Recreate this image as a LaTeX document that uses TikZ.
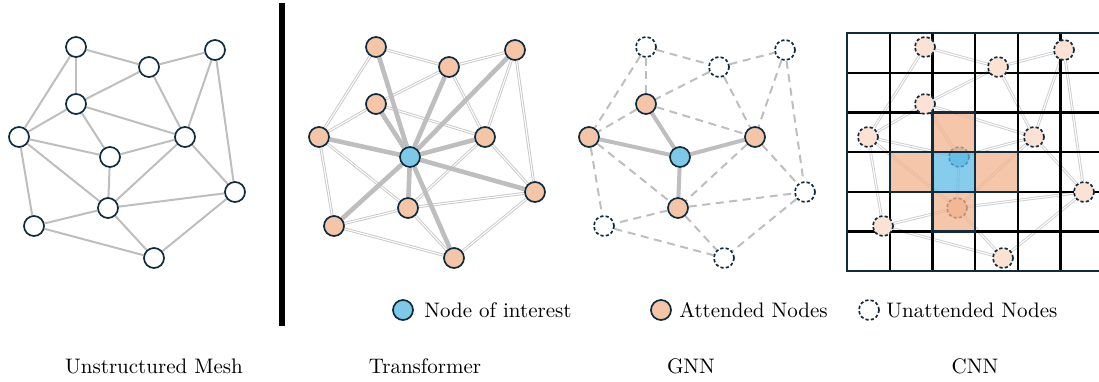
\documentclass[tikz,border=0pt]{standalone}

\definecolor{navy}{RGB}{15,43,61}
\definecolor{skyblue}{RGB}{126,200,232}
\definecolor{peach}{RGB}{245,197,168}
\definecolor{peachlight}{RGB}{252,226,210}
\definecolor{edgegray}{RGB}{190,190,190}
\definecolor{cellorange}{RGB}{242,179,142}
\definecolor{cellblue}{RGB}{95,187,229}

\pgfdeclarelayer{edges}
\pgfdeclarelayer{hidden}
\pgfdeclarelayer{cells}
\pgfsetlayers{edges,hidden,cells,main}

% mesh connectivity, shared by all four panels
\def\meshedges{A/B,B/C,A/D,A/E,B/D,B/G,C/G,C/I,D/E,D/G,D/F,E/F,E/H,E/J,F/G,F/H,G/H,G/I,H/I,H/J,H/K,J/K,I/K}
\def\rimedges{A/B,B/C,A/D,A/E,B/D,B/G,C/G,C/I,D/E,D/G,E/H,E/J,G/H,G/I,H/I,H/J,H/K,J/K,I/K}

\begin{document}
\begin{tikzpicture}[x=0.5pt, y=-0.5pt,
  font=\fontsize{10.5}{12}\selectfont,
  vtx/.style={circle, minimum size=10pt, inner sep=0pt, line width=0.85pt, draw=navy},
  plainvtx/.style={vtx, fill=white},
  focusvtx/.style={vtx, fill=skyblue},
  attvtx/.style={vtx, fill=peach},
  unattvtx/.style={vtx, fill=white, dash pattern=on 1.6pt off 1.1pt},
  gridvtx/.style={unattvtx, fill=peachlight},
  meshedge/.style={draw=edgegray, line width=1pt},
  attnedge/.style={draw=edgegray, line width=2.3pt},
  pairedge/.style={draw=edgegray!85, line width=0.45pt, double=white, double distance=0.55pt},
  faintedge/.style={pairedge, draw=edgegray!75},
  dashedge/.style={draw=edgegray, line width=1pt, dash pattern=on 4pt off 2.8pt},
  msgedge/.style={draw=edgegray, line width=2pt},
  cell/.style={fill opacity=0.75},
  gridline/.style={line width=1.1pt, draw=black},
  label/.style={inner sep=0pt}]

\useasboundingbox (0,0) rectangle (1099,381);

% base vertex positions of the mesh
\foreach \n/\x/\y in {A/76/47, B/149/67, C/215/50, D/76/104, E/19/137, F/110/157,
                      G/185/137, H/108/208, I/235/192, J/34/226, K/154/258}
  \coordinate (p-\n) at (\x,\y);

% ---------- unstructured mesh ----------
\foreach \n in {A,B,C,D,E,F,G,H,I,J,K}
  \node[plainvtx] (m-\n) at (p-\n) {};
\begin{pgfonlayer}{edges}
  \foreach \a/\b in \meshedges \draw[meshedge] (m-\a) -- (m-\b);
\end{pgfonlayer}

% separator
\draw[line width=2.6pt] (282,3) -- (282,326);

% ---------- transformer ----------
\node[focusvtx] (t-F) at ([xshift=150pt]p-F) {};
\foreach \n in {A,B,C,D,E,G,H,I,J,K}
  \node[attvtx] (t-\n) at ([xshift=150pt]p-\n) {};
\begin{pgfonlayer}{edges}
  \foreach \a/\b in \rimedges \draw[pairedge] (t-\a) -- (t-\b);
  \foreach \n in {A,B,C,D,E,G,H,I,J,K} \draw[attnedge] (t-F) -- (t-\n);
\end{pgfonlayer}

% ---------- GNN ----------
\node[focusvtx] (g-F) at ([xshift=285pt]p-F) {};
\foreach \n in {D,E,G,H}
  \node[attvtx] (g-\n) at ([xshift=285pt]p-\n) {};
\foreach \n in {A,B,C,I,J,K}
  \node[unattvtx] (g-\n) at ([xshift=285pt]p-\n) {};
\begin{pgfonlayer}{edges}
  \foreach \a/\b in \rimedges \draw[dashedge] (g-\a) -- (g-\b);
  \foreach \n in {D,E,G,H} \draw[msgedge] (g-F) -- (g-\n);
\end{pgfonlayer}

% ---------- CNN ----------
\begin{pgfonlayer}{hidden}
  \node[gridvtx, fill=skyblue] (c-F) at ([xshift=424.5pt]p-F) {};
  \node[gridvtx, fill=peach] (c-H) at ([xshift=424.5pt]p-H) {};
\end{pgfonlayer}
\begin{pgfonlayer}{cells}
  \fill[cellblue, cell]   (932.4,152.1) rectangle (975.1,191.8);
  \fill[cellorange, cell] (932.4,112.4) rectangle (975.1,152.1);
  \fill[cellorange, cell] (889.7,152.1) rectangle (932.4,191.8);
  \fill[cellorange, cell] (975.1,152.1) rectangle (1017.8,191.8);
  \fill[cellorange, cell] (932.4,191.8) rectangle (975.1,231.5);
\end{pgfonlayer}
\begin{scope}
  \clip (846,32) rectangle (1099,273);
  \foreach \i in {1,...,5}
    \draw[gridline] ({847+42.7*\i},33) -- ({847+42.7*\i},271.2);
  \foreach \j in {1,...,5}
    \draw[gridline] (847,{33+39.7*\j}) -- (1099,{33+39.7*\j});
\end{scope}
\draw[navy, line width=1.2pt] (1099,33) -- (847,33) -- (847,271.2) -- (1099,271.2);
\draw[navy, line width=1.2pt]
  (932.4,112.4) -- (975.1,112.4) -- (975.1,152.1) -- (1017.8,152.1) -- (1017.8,191.8)
  -- (975.1,191.8) -- (975.1,231.5) -- (932.4,231.5) -- (932.4,191.8) -- (889.7,191.8)
  -- (889.7,152.1) -- (932.4,152.1) -- cycle;
\draw[navy, line width=1.2pt] (932.4,152.1) rectangle (975.1,191.8);
\foreach \n in {A,B,C,D,E,G,I,J,K}
  \node[gridvtx] (c-\n) at ([xshift=424.5pt]p-\n) {};
\begin{pgfonlayer}{edges}
  \foreach \a/\b in \meshedges \draw[faintedge] (c-\a) -- (c-\b);
\end{pgfonlayer}

% ---------- legend ----------
\node[focusvtx] (leg-focus) at (403,310) {};
\node[label, anchor=west] (leg-focus-txt) at (424,310) {Node of interest};
\node[attvtx] (leg-att) at (661,310) {};
\node[label, anchor=west] (leg-att-txt) at (679,310) {Attended Nodes};
\node[unattvtx] (leg-unatt) at (869,310) {};
\node[label, anchor=west] (leg-unatt-txt) at (886,310) {Unattended Nodes};

% ---------- captions ----------
\node[label] (cap-mesh) at (154,366) {Unstructured Mesh};
\node[label] (cap-trans) at (425,366) {Transformer};
\node[label] (cap-gnn) at (691,366) {GNN};
\node[label] (cap-cnn) at (975,366) {CNN};

\end{tikzpicture}
\end{document}
